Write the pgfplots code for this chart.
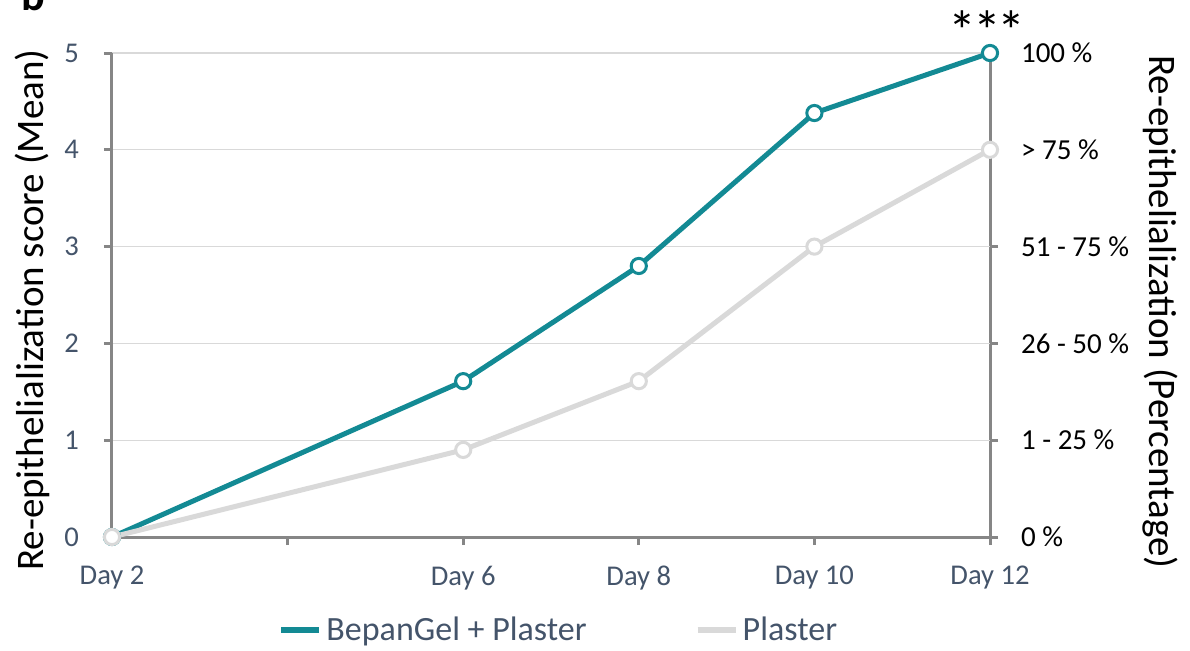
\documentclass[border=0pt]{standalone}
\usepackage{pgfplots}
\pgfplotsset{compat=1.18}
\usepackage{fontspec}
\setmainfont{Carlito}
\definecolor{teal1}{HTML}{138A94}
\definecolor{grey1}{HTML}{D9D9D9}
\definecolor{axgray}{HTML}{868686}
\definecolor{ticktxt}{HTML}{44546A}
\begin{document}
\begin{tikzpicture}[x=1pt,y=1pt]
\useasboundingbox (-56,-56.5) rectangle (539,268.5);
\node[anchor=base west, font=\bfseries\fontsize{22}{26}\selectfont] at (-49,263.5) {b};
% right axis (drawn first so data marks lie on top)
\begin{axis}[
  at={(0,0)}, anchor=south west,
  scale only axis, width=439pt, height=242pt,
  xmin=2, xmax=12, ymin=0, ymax=5,
  hide x axis,
  axis y line*=right,
  axis line style={axgray, line width=1.5pt},
  ytick={0,1,2,3,4,5},
  yticklabels={0 \%, 1 - 25 \%, 26 - 50 \%, 51 - 75 \%, > 75 \%, 100 \%},
  tick style={axgray, line width=1.5pt},
  major tick length=4pt, tick align=outside,
  yticklabel style={font=\fontsize{14.5}{17}\selectfont, text=black, anchor=west, xshift=8pt},
  ylabel={Re-epithelialization (Percentage)},
  ylabel style={font=\fontsize{19.5}{22}\selectfont, at={(axis description cs:1.1936,0.465)}, anchor=center, rotate=180},
]
\addplot[draw=none, forget plot] coordinates {(2,0)};
\end{axis}
\begin{axis}[
  at={(0,0)}, anchor=south west,
  scale only axis, width=439pt, height=242pt,
  xmin=2, xmax=12, ymin=0, ymax=5,
  axis x line*=bottom, axis y line*=left,
  axis line style={axgray, line width=1.5pt},
  xtick={2,4,6,8,10,12},
  xticklabels={Day 2,,Day 6,Day 8,Day 10,Day 12},
  ytick={0,1,2,3,4,5},
  tick style={axgray, line width=1.5pt},
  major tick length=4pt, tick align=outside,
  ymajorgrids, grid style={grey1, line width=0.6pt},
  ticklabel style={font=\fontsize{14.3}{17}\selectfont, text=ticktxt},
  xticklabel style={yshift=-7pt},
  yticklabel style={xshift=-9pt},
  /pgf/number format/assume math mode=true,
  ylabel={Re-epithelialization score (Mean)},
  ylabel style={font=\fontsize{19.5}{22}\selectfont, at={(axis description cs:-0.091,0.469)}, anchor=center},
  clip=false,
  legend columns=2,
  legend style={at={(0.51,-0.192)}, anchor=center, draw=none, fill=none,
    font=\fontsize{17}{20}\selectfont, text=ticktxt,
    /tikz/every even column/.append style={column sep=52pt}},
  legend image code/.code={\draw[#1, line width=3pt] (0pt,0pt) -- (19pt,0pt);},
]
\addplot[teal1, line width=2.5pt, mark=*, mark size=3.8pt,
  mark options={fill=white, draw=teal1, line width=1.5pt}]
  coordinates {(2,0) (6,1.61) (8,2.80) (10,4.38) (12,5)};
\addlegendentry{BepanGel + Plaster}
\addplot[grey1, line width=2.5pt, mark=*, mark size=3.8pt,
  mark options={fill=white, draw=grey1, line width=1.5pt}]
  coordinates {(2,0) (6,0.90) (8,1.61) (10,3.0) (12,4)};
\addlegendentry{Plaster}
\node[font=\fontsize{28}{32}\selectfont, anchor=center, inner sep=0pt] at (axis cs:12,5) [xshift=-1.5pt, yshift=11pt] {*\kern-1.5pt*\kern-1.5pt*};
\end{axis}
\end{tikzpicture}
\end{document}
